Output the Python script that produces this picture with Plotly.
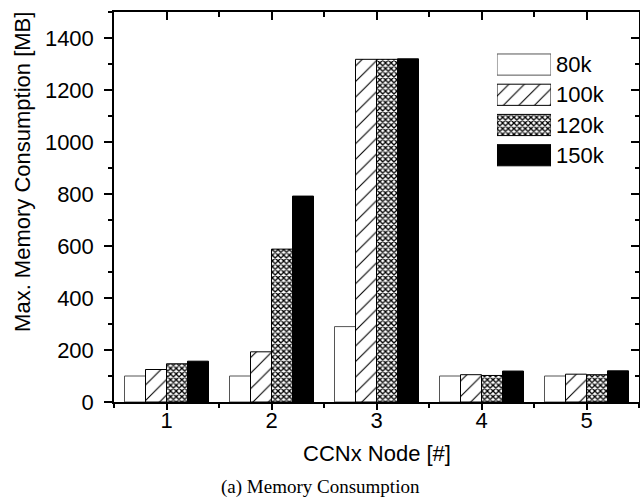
import plotly.graph_objects as go

nodes = [1, 2, 3, 4, 5]
node_labels = ["1", "2", "3", "4", "5"]
series_names = ["80k", "100k", "120k", "150k"]
mem_80k = [100, 100, 290, 100, 100]
mem_100k = [125, 193, 1318, 105, 107]
mem_120k = [147, 588, 1318, 102, 105]
mem_150k = [157, 792, 1320, 119, 120]

series_values = [mem_80k, mem_100k, mem_120k, mem_150k]
fill_colors = ["white", "white", "white", "black"]
line_colors = ["#555555", "black", "black", "black"]
pat_shapes = ["", "/", "x", ""]
pat_sizes = [8, 11, 4, 8]
pat_solid = [0.3, 0.1, 0.55, 0.3]

FONT = "Liberation Sans, Arial, sans-serif"
FS = 22
X_RANGE = [0.5, 5.5]
Y_RANGE = [0, 1500]


def marker_for(i):
    return dict(color=fill_colors[i],
                line=dict(color=line_colors[i], width=1),
                pattern=dict(shape=pat_shapes[i], size=pat_sizes[i],
                             solidity=pat_solid[i], fgcolor="black",
                             bgcolor=fill_colors[i], fillmode="replace"))


fig = go.Figure()
for i, name in enumerate(series_names):
    fig.add_trace(go.Bar(x=nodes, y=series_values[i], name=name, showlegend=False,
                         marker=marker_for(i), xaxis="x", yaxis="y"))

# legend keys drawn as bars on a small helper axis
for i, name in enumerate(series_names):
    fig.add_trace(go.Bar(y=[name], x=[1], orientation="h", width=0.7,
                         offsetgroup="legend", showlegend=False, hoverinfo="skip",
                         marker=marker_for(i), xaxis="x3", yaxis="y3"))

# empty traces so the helper (tick-only) axes get drawn
fig.add_trace(go.Scatter(x=[None], y=[None], xaxis="x2", yaxis="y2",
                         showlegend=False, hoverinfo="skip"))
fig.add_trace(go.Scatter(x=[None], y=[None], xaxis="x4", yaxis="y2",
                         showlegend=False, hoverinfo="skip"))

axis_common = dict(showgrid=False, zeroline=False, showline=True,
                   linecolor="black", linewidth=1.5, tickwidth=1.5, tickcolor="black")

fig.update_layout(
    width=640, height=504, autosize=False,
    margin=dict(l=114, r=1, t=12, b=102, pad=0),
    paper_bgcolor="white", plot_bgcolor="white",
    barmode="group", bargap=0.2, bargroupgap=0,
    font=dict(family=FONT, size=FS, color="black"),
    showlegend=False,
    # main x axis: line + labels only
    xaxis=dict(range=X_RANGE, tickmode="array", tickvals=nodes, ticktext=node_labels,
               ticks="", ticklabelstandoff=-2, tickfont=dict(size=FS), **axis_common),
    # bottom outward ticks
    xaxis4=dict(overlaying="x", side="bottom", anchor="y", range=X_RANGE,
                tickmode="array", tickvals=nodes, showticklabels=False,
                ticks="outside", ticklen=7,
                minor=dict(tick0=0.5, dtick=1, ticks="outside", ticklen=5,
                           tickcolor="black", tickwidth=1.5),
                showgrid=False, zeroline=False, showline=False,
                tickwidth=1.5, tickcolor="black"),
    yaxis=dict(range=Y_RANGE, tick0=0, dtick=200, ticks="outside", ticklen=8,
               ticklabelstandoff=6,
               minor=dict(tick0=0, dtick=100, ticks="outside", ticklen=4,
                          tickcolor="black", tickwidth=1.5),
               tickfont=dict(size=FS), **axis_common),
    xaxis2=dict(overlaying="x", side="top", anchor="y2", range=X_RANGE,
                tickmode="array", tickvals=nodes, showticklabels=False,
                ticks="inside", ticklen=8,
                minor=dict(tick0=0.5, dtick=1, ticks="inside", ticklen=5,
                           tickcolor="black", tickwidth=1.5),
                **axis_common),
    yaxis2=dict(overlaying="y", side="right", anchor="x2", range=Y_RANGE,
                tick0=0, dtick=200, showticklabels=False, ticks="inside", ticklen=8,
                minor=dict(tick0=0, dtick=100, ticks="inside", ticklen=4,
                           tickcolor="black", tickwidth=1.5),
                **axis_common),
    xaxis3=dict(domain=[0.7295, 0.8324], anchor="y3", range=[0, 1], visible=False,
                fixedrange=True),
    yaxis3=dict(domain=[0.594, 0.904], anchor="x3", side="right", type="category",
                autorange="reversed", showline=False, showgrid=False, zeroline=False,
                ticks="", ticklabelstandoff=4, tickfont=dict(size=FS)),
    annotations=[
        dict(text="Max. Memory Consumption [MB]", xref="paper", yref="paper",
             x=-0.1733, y=0.59, xanchor="center", yanchor="middle", textangle=-90,
             showarrow=False, font=dict(family=FONT, size=FS, color="black")),
        dict(text="CCNx Node [#]", xref="paper", yref="paper",
             x=0.501, y=-0.1308, xanchor="center", yanchor="middle",
             showarrow=False, font=dict(family=FONT, size=FS, color="black")),
        dict(text="(a) Memory Consumption", xref="paper", yref="paper",
             x=0.394, y=-0.218, xanchor="center", yanchor="middle",
             showarrow=False,
             font=dict(family="Liberation Serif, DejaVu Serif, serif", size=19,
                       color="black")),
    ],
)

fig.write_html("out.html")
